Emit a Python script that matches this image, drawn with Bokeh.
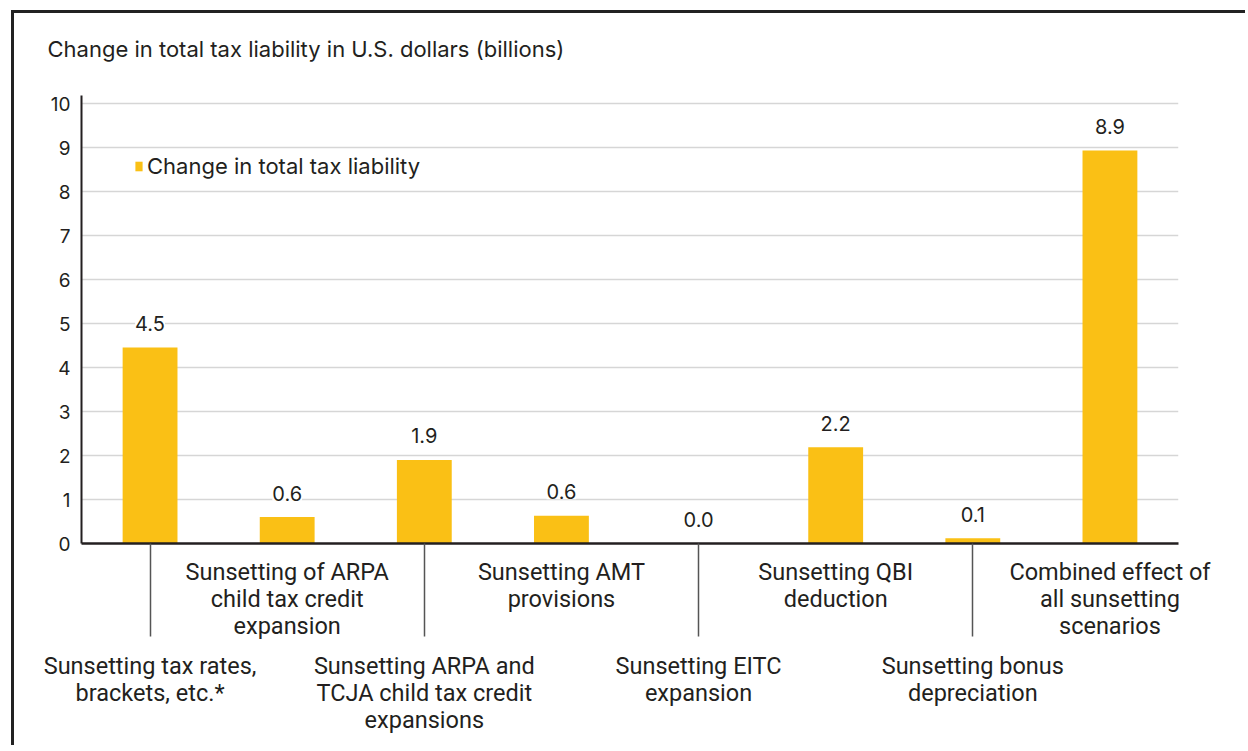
from bokeh.plotting import figure
from bokeh.models import (ColumnDataSource, Range1d, FixedTicker, LinearAxis,
                          LabelSet, Legend, LegendItem, Title)
from bokeh.core.properties import value
from bokeh.embed import file_html
from bokeh.resources import INLINE

# ---- data ----
categories = [
    "Sunsetting tax rates,\nbrackets, etc.*",
    "Sunsetting of ARPA\nchild tax credit\nexpansion",
    "Sunsetting ARPA and\nTCJA child tax credit\nexpansions",
    "Sunsetting AMT\nprovisions",
    "Sunsetting EITC\nexpansion",
    "Sunsetting QBI\ndeduction",
    "Sunsetting bonus\ndepreciation",
    "Combined effect of\nall sunsetting\nscenarios",
]
values = [4.46, 0.60, 1.90, 0.63, 0.0, 2.19, 0.12, 8.94]
y_ticks = [0, 1, 2, 3, 4, 5, 6, 7, 8, 9, 10]
title_text = "Change in total tax liability in U.S. dollars (billions)"
series_name = "Change in total tax liability"

# ---- styling / layout ----
FONT = "Inter"
CAT_FONT = "Roboto"
DARK = "#231f20"
BAR = "#FAC015"
W, H = 1234, 735
ML, MR, MT = 67, W - 1164, 82
PX_PER_UNIT = 44.0
Y_TOP = 10.19
frame_h = Y_TOP * PX_PER_UNIT
MB = int(round(H - MT - frame_h))

n = len(categories)
centers = [i + 0.5 for i in range(n)]

p = figure(width=W, height=H, x_range=Range1d(0, n), y_range=Range1d(0, Y_TOP),
           output_backend="svg", toolbar_location=None, x_axis_location=None,
           min_border_left=ML, min_border_right=MR, min_border_top=MT,
           min_border_bottom=MB)
p.styles = {"position": "absolute", "left": "14px", "top": "13px",
            "overflow": "hidden", "box-shadow": "-3px -3px 0 0 #222222"}
p.border_fill_color = "white"
p.background_fill_color = "white"
p.outline_line_color = None
p.xgrid.visible = False

p.ygrid.ticker = FixedTicker(ticks=y_ticks)
p.ygrid.grid_line_color = "#d6d6d6"
p.ygrid.grid_line_width = 1.3

ya = p.yaxis[0]
ya.ticker = FixedTicker(ticks=y_ticks)
ya.axis_line_color = DARK
ya.axis_line_width = 2
ya.major_tick_line_color = None
ya.minor_tick_line_color = None
ya.major_tick_out = 0
ya.major_label_standoff = 11
ya.major_label_text_font = FONT
ya.major_label_text_font_size = "19px"
ya.major_label_text_color = DARK

src = ColumnDataSource(dict(x=centers, val=values, lbl=["%.1f" % v for v in values]))
r = p.vbar(x="x", top="val", width=0.4, source=src, fill_color=BAR, line_color=None)

labels = LabelSet(x="x", y="val", text="lbl", source=src, y_offset=24,
                  text_align="center", text_baseline="middle",
                  text_font=value(FONT), text_font_size="20px", text_color=DARK,
                  background_fill_color="white")
p.add_layout(labels)

# category labels on two stacked axes (alternating tiers); leader lines = minor ticks
upper_x, lower_x = centers[1::2], centers[0::2]
ax1 = LinearAxis(ticker=FixedTicker(ticks=upper_x, minor_ticks=lower_x))
ax1.major_label_overrides = {x: lab for x, lab in zip(upper_x, categories[1::2])}
ax1.axis_line_color = DARK
ax1.axis_line_width = 2.5
ax1.major_tick_out = 0
ax1.major_tick_in = 0
ax1.major_tick_line_color = None
ax1.minor_tick_out = 93
ax1.minor_tick_in = 0
ax1.minor_tick_line_color = "#555555"
ax1.minor_tick_line_width = 1.5
ax1.major_label_standoff = -79

ax2 = LinearAxis(ticker=FixedTicker(ticks=lower_x, minor_ticks=[]))
ax2.major_label_overrides = {x: lab for x, lab in zip(lower_x, categories[0::2])}
ax2.axis_line_color = None
ax2.major_tick_out = 0
ax2.major_tick_in = 0
ax2.major_tick_line_color = None
ax2.minor_tick_line_color = None
ax2.major_label_standoff = 8

for ax in (ax1, ax2):
    ax.major_label_text_font = CAT_FONT
    ax.major_label_text_font_size = "23.5px"
    ax.major_label_text_color = DARK
    ax.major_label_text_line_height = 0.98
    ax.major_label_text_align = "center"
p.add_layout(ax1, "below")
p.add_layout(ax2, "below")

legend = Legend(items=[LegendItem(label=series_name, renderers=[r])],
                location=(53, int(frame_h) - 84), glyph_width=9, glyph_height=12,
                label_standoff=4, padding=0, margin=0, spacing=0,
                label_text_font=FONT, label_text_font_size="22px",
                label_text_color=DARK, border_line_color=None,
                background_fill_alpha=0)
p.add_layout(legend)

# spacer between frame and title, then the title itself
p.add_layout(Title(text=" ", text_font_size="20px", standoff=10), "above")
p.add_layout(Title(text=title_text, align="left", offset=-34, standoff=0,
                   text_font=FONT, text_font_size="22px", text_font_style="normal",
                   text_color=DARK), "above")

open("out.html", "w").write(file_html(p, INLINE))
